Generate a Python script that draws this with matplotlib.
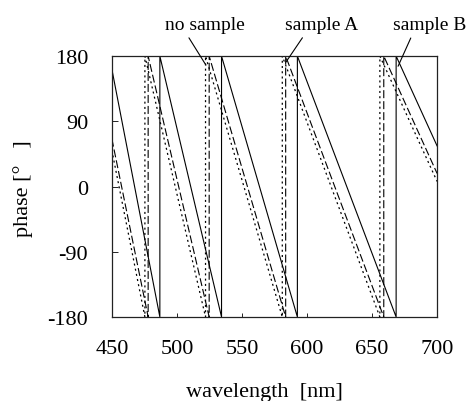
import matplotlib
matplotlib.use("Agg")
import matplotlib.pyplot as plt

plt.rcParams['font.family'] = ['Liberation Serif', 'DejaVu Serif']

# fases (saltos de -180 para 180 como pontos repetidos)
b_nm = [450, 486.9, 486.9, 534.3, 534.3, 592.6, 592.6, 668.5, 668.5, 700]
b_deg = [162, -180, 180, -180, 180, -180, 180, -180, 180, 56]

a_nm = [450, 477.9, 477.9, 524.8, 524.8, 583.6, 583.6, 659, 659, 700]
a_deg = [66, -180, 180, -180, 180, -180, 180, -180, 180, 18]

ns_nm = [450, 475.4, 475.4, 522, 522, 581, 581, 656, 656, 700]
ns_deg = [50, -180, 180, -180, 180, -180, 180, -180, 180, 7]

xticks = [450, 500, 550, 600, 650, 700]
yticks = [-180, -90, 0, 90, 180]
ytick_labels = ["-180", "-90", "0", "90", "180"]

fig = plt.figure(figsize=(4.68, 4.02), dpi=100)
ax = fig.add_axes([0.239, 0.209, 0.695, 0.649])

ax.plot(b_nm, b_deg, color="black", lw=0.8, ls="-")
ax.plot(a_nm, a_deg, color="black", lw=0.8, ls=(0, (7.2, 2.7)))
ax.plot(ns_nm, ns_deg, color="black", lw=0.9, ls=(0, (1.6, 2.6)))

ax.set_xlim(450, 700)
ax.set_ylim(-180, 180)
ax.set_xticks(xticks)
ax.set_yticks(yticks)
ax.set_yticklabels(ytick_labels)
ax.tick_params(axis="x", direction="in", length=3, width=0.6, pad=16, labelsize=16)
ax.tick_params(axis="y", direction="in", length=4, width=0.6, pad=17, labelsize=16)
for s in ax.spines.values():
    s.set_linewidth(0.9)
    s.set_color("#222222")

# rótulos das curvas
anot = [("no sample", 522.3, 167.6, 521.5, 224, 0.26),
        ("sample A", 583.8, 171.7, 611.5, 224, 0.28),
        ("sample B", 670, 166, 694, 224, 0.28)]
for txt, x0, y0, xt, yt, rp in anot:
    ax.annotate(txt, xy=(x0, y0), xytext=(xt, yt), textcoords="data",
                ha="center", va="center", fontsize=14, annotation_clip=False,
                arrowprops=dict(arrowstyle="-", lw=0.8, color="black",
                                relpos=(rp, 0.0), shrinkA=2, shrinkB=0))

fig.text(0.566, 0.024, "wavelength  [nm]", ha="center", va="center", fontsize=16)
fig.text(0.05, 0.53, "phase [°   ]", ha="center", va="center", fontsize=16, rotation=90)

fig.savefig("out.png", dpi=100)
